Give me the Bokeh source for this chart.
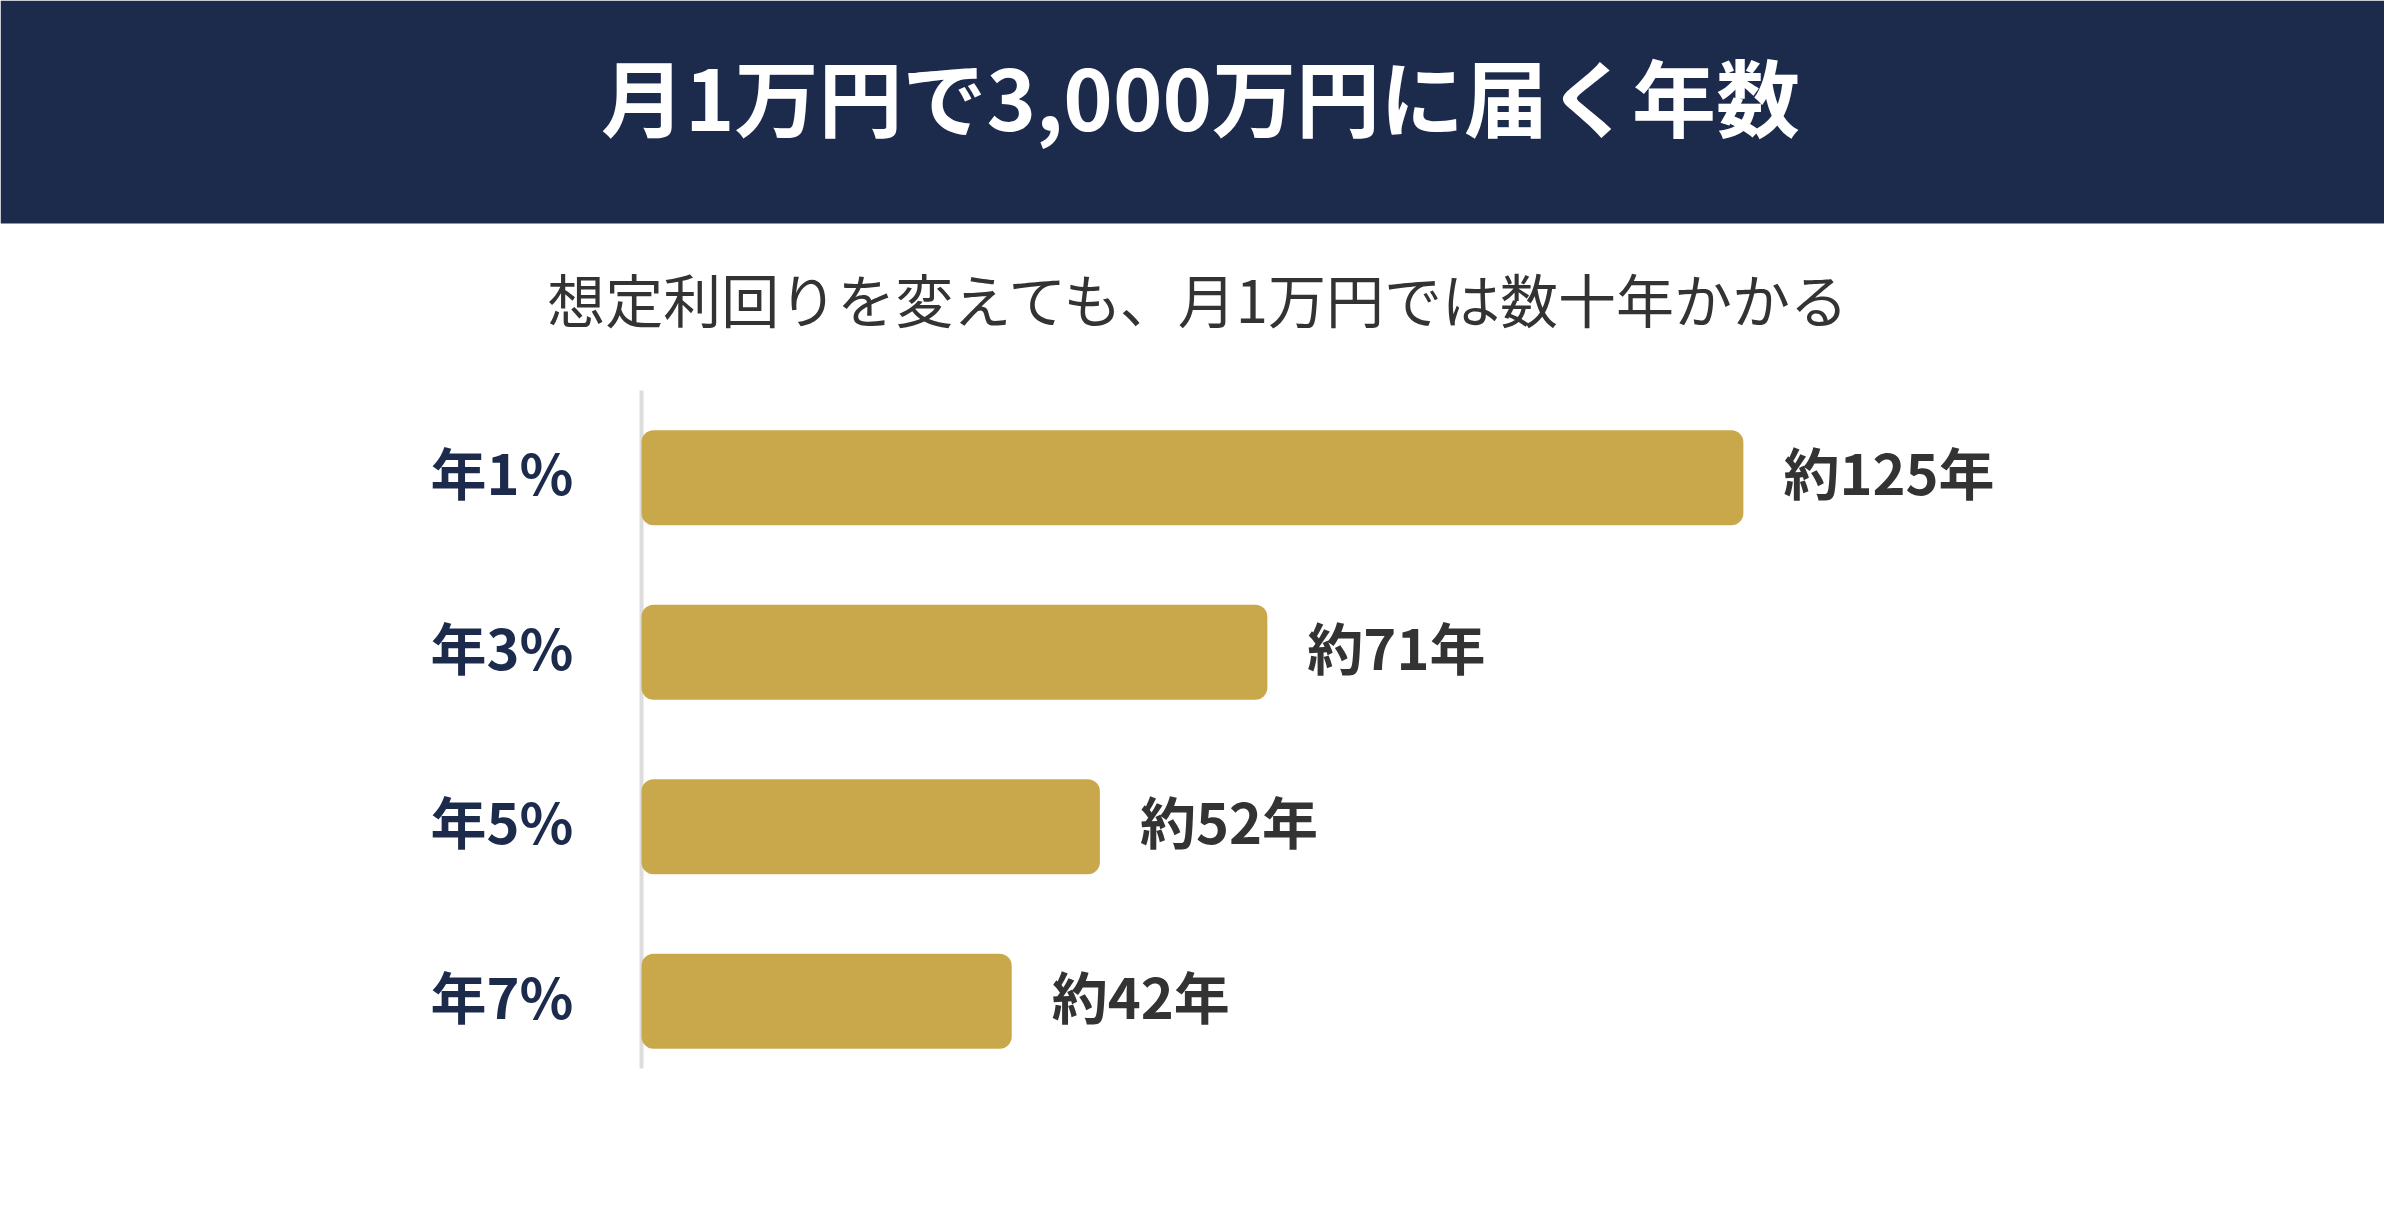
from bokeh.plotting import figure
from bokeh.models import Range1d, ColumnDataSource, BoxAnnotation
from bokeh.core.properties import value
from bokeh.embed import file_html
from bokeh.resources import INLINE

# データ
rates = ["年1%", "年3%", "年5%", "年7%"]
years = [125, 71, 52, 42]
year_labels = ["約125年", "約71年", "約52年", "約42年"]

title_text = "月1万円で3,000万円に届く年数"
subtitle_text = "想定利回りを変えても、月1万円では数十年かかる"

NAVY = "#1c2a4b"
GOLD = "#c9a84c"
FONT = "Noto Sans CJK JP"
W, H = 2384, 1200

# 画面全体をフレームにして、ピクセル位置 -> データ座標に換算する
X0, XS = 641, 8.815      # x=0 の位置と 1年あたりのピクセル
Y0, YS = 390, 174.5      # 棒エリア上端と1段あたりのピクセル


def sx(px):
    return (px - X0) / XS


def sy(py):
    return (py - Y0) / YS


p = figure(width=W, height=H, output_backend="svg", toolbar_location=None,
           x_range=Range1d(sx(0), sx(W)), y_range=Range1d(sy(H), sy(0)),
           min_border=0)
p.axis.visible = False
p.grid.visible = False
p.outline_line_color = None

# ヘッダー帯（文字の下に敷く）
p.add_layout(BoxAnnotation(bottom=sy(223), fill_color=NAVY, fill_alpha=1,
                           line_color=None, level="underlay"))
p.text(x=[sx(1200)], y=[sy(94)], text=[title_text], text_align="center",
       text_baseline="middle", text_color="white", text_font=value(FONT),
       text_font_size="84px", text_font_style="bold")
p.text(x=[sx(1200)], y=[sy(297)], text=[subtitle_text], text_align="center",
       text_baseline="middle", text_color="#333333", text_font=value(FONT),
       text_font_size="58px")

# 軸線
p.segment(x0=[0], y0=[0], x1=[0], y1=[sy(1068)], line_color="#dddddd",
          line_width=4)

# 棒グラフ
pos = [i + 0.5 for i in range(len(rates))]
src = ColumnDataSource(data=dict(y=pos, years=years, label=year_labels, rate=rates))

p.hbar(y="y", right="years", left=0, height=0.545, source=src,
       fill_color=GOLD, line_color=None, border_radius=12)
p.text(x="years", y="y", text="label", source=src, x_offset=40, y_offset=-7,
       text_baseline="middle", text_color="#333333", text_font=value(FONT),
       text_font_size="56px", text_font_style="bold")
p.text(x=0, y="y", text="rate", source=src, x_offset=-68, y_offset=-7,
       text_align="right", text_baseline="middle", text_color=NAVY,
       text_font=value(FONT), text_font_size="56px", text_font_style="bold")

open("out.html", "w").write(file_html(p, INLINE))
